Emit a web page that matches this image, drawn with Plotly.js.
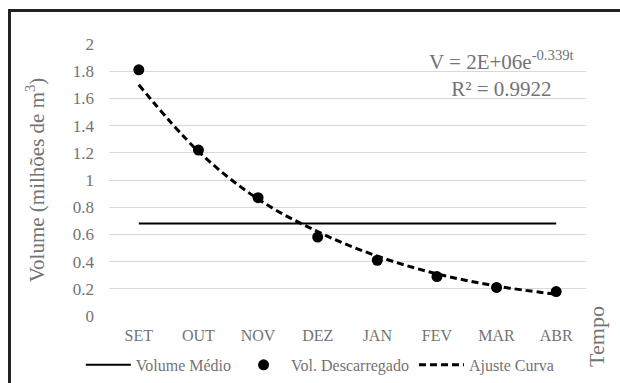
<!DOCTYPE html>
<html>
<head>
<meta charset="utf-8">
<script src="https://cdn.plot.ly/plotly-3.0.1.min.js"></script>
<style>html,body{margin:0;padding:0;background:#fff;}#chart{width:620px;height:383px;}</style>
</head>
<body>
<div id="chart"></div>
<script>
const months = ["SET", "OUT", "NOV", "DEZ", "JAN", "FEV", "MAR", "ABR"];
const volDescarregado = [1.81, 1.22, 0.87, 0.58, 0.41, 0.29, 0.21, 0.18];
const ajusteCurva = [1.70, 1.21, 0.86, 0.62, 0.44, 0.31, 0.22, 0.16];
const volumeMedio = [0.68, 0.68, 0.68, 0.68, 0.68, 0.68, 0.68, 0.68];
const yTicks = [0, 0.2, 0.4, 0.6, 0.8, 1, 1.2, 1.4, 1.6, 1.8, 2];

const FONT = "Liberation Serif, DejaVu Serif, serif";
const TXT = "#737373";

const traces = [
  {x: months, y: volumeMedio, name: "Volume Médio", type: "scatter", mode: "lines",
   line: {color: "#000", width: 2}},
  {x: months, y: volDescarregado, name: "Vol. Descarregado", type: "scatter", mode: "markers",
   marker: {color: "#000", size: 11}},
  {x: months, y: ajusteCurva, name: "Ajuste Curva", type: "scatter", mode: "lines",
   line: {color: "#000", width: 3, dash: "7px,4px", shape: "spline"}}
];

const layout = {
  width: 620, height: 383,
  margin: {l: 109, r: 34, t: 44, b: 67, autoexpand: false},
  paper_bgcolor: "#fff", plot_bgcolor: "#fff",
  font: {family: FONT, color: TXT, size: 17},
  showlegend: true,
  legend: {orientation: "h", x: 0.443, xanchor: "center", y: -0.18, yanchor: "middle",
           itemwidth: 45,
           font: {family: FONT, size: 16, color: TXT}, bgcolor: "rgba(0,0,0,0)"},
  xaxis: {type: "category", range: [-0.5, 7.5], showgrid: false, zeroline: false,
          showline: false, ticks: "", ticklabelstandoff: 8,
          tickfont: {family: FONT, size: 16, color: TXT}, fixedrange: true},
  yaxis: {range: [0, 2], tickvals: yTicks, ticktext: yTicks.map(String),
          showgrid: true, gridcolor: "#d9d9d9", gridwidth: 1, zeroline: false,
          showline: false, ticks: "", ticklabelstandoff: 14,
          tickfont: {family: FONT, size: 17, color: TXT},
          title: {text: "Volume (milhões de m<sup>3</sup>)", standoff: 22,
                  font: {family: FONT, size: 21, color: TXT}}, fixedrange: true},
  annotations: [
    {xref: "paper", yref: "paper", x: 0.822, y: 0.995, xanchor: "center", yanchor: "top",
     text: "V = 2E+06e<sup>-0.339t</sup><br>R² = 0.9922", showarrow: false, align: "center",
     font: {family: FONT, size: 21, color: TXT}},
    {xref: "paper", yref: "paper", x: 1.022, y: -0.075, xanchor: "center", yanchor: "middle",
     text: "Tempo", textangle: -90, showarrow: false,
     font: {family: FONT, size: 22, color: TXT}}
  ],
  shapes: [
    {type: "path", xref: "paper", yref: "paper",
     path: "M -0.2086 -0.4 L -0.2086 1.1232 L 1.2 1.1232",
     line: {color: "#222", width: 3}}
  ]
};

Plotly.newPlot("chart", traces, layout, {displayModeBar: false, staticPlot: true});
</script>
</body>
</html>
